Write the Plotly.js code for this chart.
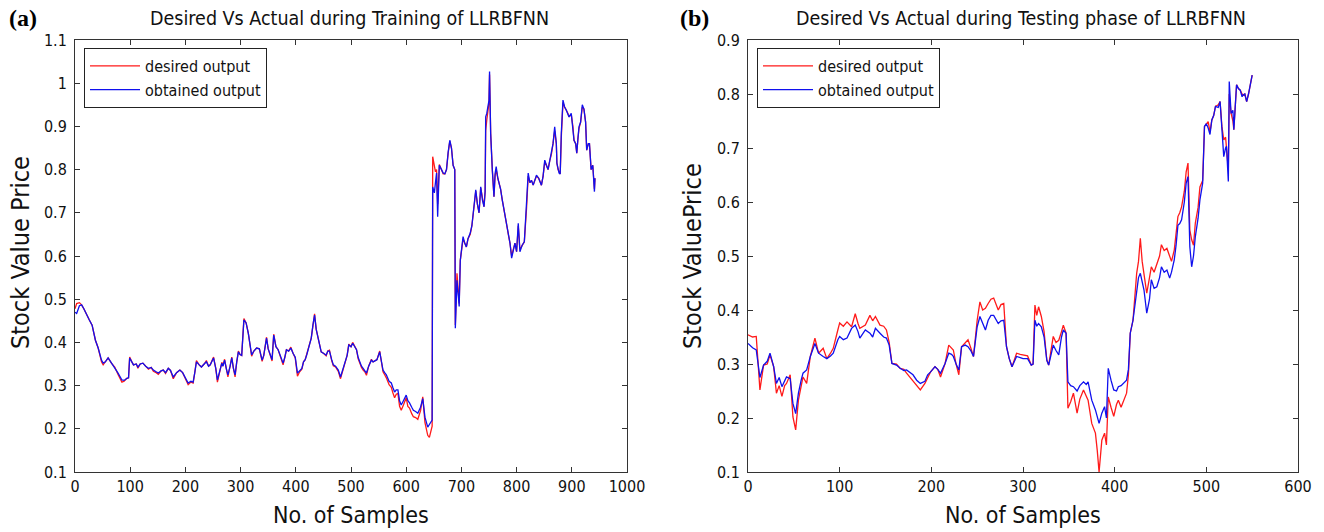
<!DOCTYPE html>
<html>
<head>
<meta charset="utf-8">
<script src="https://cdn.plot.ly/plotly-3.0.1.min.js"></script>
<style>html,body{margin:0;padding:0;background:#fff;}#chart{width:1324px;height:532px;}</style>
</head>
<body>
<div id="chart"></div>
<script>
// ---------- Training (a) ----------
const trainN = [0,3,8,12,16,21,26,31,37,42,48,51,55,60,66,72,78,85,89,94,97,99,103,106,111,114,118,123,128,133,138,142,147,151,156,160,164,169,173,178,184,190,195,199,205,210,214,217,220,225,229,234,238,242,245,251,255,258,262,266,268,271,274,277,281,284,287,290,293,296,299,302,306,310,314,317,320,324,329,334,339,342,347,350,353,357,360,364,368,372,377,380,383,387,391,395,399,403,407,411,414,417,420,424,428,431,434,437,440,443,446,450,455,458,461,465,468,472,477,481,485,489,493,496,500,503,507,510,513,516,519,522,525,528,532,537,540,543,547,552,555,558,561,564,569,573,576,579,582,585,588,591,595,600,603,606,610,613,617,621,626,630,634,637,639,642,645,647,648,651,653,655,657,660,664,667,670,673,676,679,682,685,688,689,692,694,696,698,701,703,706,709,712,716,719,721,723,726,729,732,735,738,741,743,744,746,748,750,751,753,756,759,761,763,766,768,771,774,777,780,783,785,788,791,794,797,800,803,806,810,814,818,821,824,827,830,833,836,840,845,848,851,854,857,860,863,866,869,872,873,875,877,879,881,884,887,890,893,895,899,902,904,907,909,911,913,916,919,922,925,927,930,932,935,938,941,942];
const trainObtained = [0.470,0.467,0.485,0.487,0.478,0.463,0.452,0.440,0.405,0.387,0.359,0.352,0.355,0.364,0.352,0.343,0.329,0.313,0.312,0.317,0.318,0.364,0.355,0.348,0.350,0.343,0.350,0.352,0.345,0.340,0.342,0.336,0.332,0.329,0.334,0.336,0.330,0.340,0.335,0.320,0.330,0.336,0.330,0.320,0.306,0.310,0.308,0.330,0.355,0.348,0.343,0.350,0.355,0.345,0.348,0.364,0.340,0.313,0.330,0.352,0.345,0.359,0.340,0.325,0.345,0.364,0.340,0.325,0.355,0.378,0.372,0.370,0.452,0.445,0.421,0.390,0.371,0.380,0.387,0.385,0.359,0.370,0.410,0.385,0.375,0.360,0.417,0.390,0.383,0.370,0.352,0.365,0.383,0.380,0.387,0.375,0.366,0.329,0.335,0.340,0.355,0.360,0.372,0.390,0.410,0.440,0.463,0.430,0.412,0.390,0.378,0.375,0.371,0.380,0.380,0.360,0.348,0.345,0.336,0.320,0.335,0.355,0.370,0.394,0.390,0.398,0.390,0.383,0.365,0.352,0.345,0.340,0.335,0.329,0.345,0.359,0.355,0.357,0.360,0.378,0.360,0.336,0.330,0.325,0.310,0.306,0.295,0.285,0.290,0.290,0.265,0.255,0.265,0.278,0.265,0.260,0.250,0.243,0.240,0.236,0.250,0.270,0.227,0.215,0.204,0.210,0.216,0.220,0.760,0.746,0.770,0.792,0.691,0.810,0.800,0.792,0.790,0.800,0.840,0.868,0.850,0.810,0.800,0.433,0.544,0.500,0.483,0.590,0.620,0.645,0.630,0.621,0.640,0.653,0.670,0.691,0.720,0.753,0.720,0.700,0.760,0.730,0.714,0.750,0.922,0.930,0.946,0.960,1.027,0.884,0.800,0.737,0.790,0.807,0.780,0.769,0.755,0.730,0.710,0.683,0.670,0.653,0.630,0.595,0.615,0.630,0.610,0.676,0.610,0.625,0.633,0.714,0.792,0.770,0.775,0.764,0.775,0.787,0.780,0.764,0.785,0.822,0.810,0.800,0.820,0.838,0.860,0.899,0.860,0.815,0.800,0.792,0.790,0.884,0.961,0.945,0.938,0.930,0.922,0.930,0.900,0.868,0.860,0.838,0.870,0.899,0.910,0.950,0.940,0.910,0.845,0.860,0.860,0.800,0.810,0.749,0.780];
const trainDesired = [0.478,0.490,0.492,0.487,0.478,0.463,0.452,0.440,0.405,0.387,0.355,0.348,0.355,0.364,0.352,0.343,0.326,0.308,0.310,0.317,0.318,0.366,0.355,0.348,0.350,0.340,0.350,0.352,0.345,0.338,0.342,0.333,0.330,0.326,0.334,0.336,0.328,0.340,0.335,0.316,0.330,0.336,0.330,0.318,0.302,0.308,0.306,0.330,0.358,0.348,0.343,0.350,0.358,0.345,0.348,0.366,0.340,0.308,0.330,0.354,0.345,0.361,0.340,0.320,0.345,0.366,0.340,0.320,0.355,0.380,0.372,0.370,0.455,0.445,0.421,0.388,0.368,0.380,0.387,0.385,0.356,0.370,0.412,0.385,0.375,0.357,0.419,0.390,0.383,0.368,0.348,0.365,0.383,0.380,0.389,0.375,0.364,0.322,0.332,0.338,0.355,0.360,0.372,0.392,0.410,0.442,0.466,0.430,0.412,0.388,0.378,0.375,0.369,0.380,0.382,0.358,0.346,0.343,0.333,0.316,0.333,0.355,0.370,0.396,0.390,0.400,0.390,0.383,0.362,0.350,0.342,0.336,0.332,0.324,0.345,0.361,0.355,0.357,0.360,0.380,0.356,0.332,0.325,0.318,0.302,0.296,0.283,0.272,0.280,0.282,0.252,0.243,0.255,0.272,0.252,0.248,0.235,0.228,0.226,0.222,0.242,0.274,0.214,0.200,0.185,0.180,0.196,0.206,0.830,0.810,0.795,0.800,0.720,0.812,0.800,0.790,0.790,0.800,0.838,0.866,0.850,0.810,0.800,0.440,0.560,0.515,0.490,0.590,0.625,0.640,0.630,0.621,0.640,0.650,0.670,0.691,0.720,0.750,0.720,0.700,0.758,0.730,0.714,0.750,0.890,0.915,0.940,0.955,1.020,0.884,0.800,0.737,0.785,0.800,0.780,0.769,0.755,0.730,0.705,0.680,0.665,0.650,0.630,0.600,0.615,0.630,0.610,0.670,0.615,0.625,0.633,0.710,0.785,0.770,0.775,0.764,0.775,0.785,0.780,0.764,0.785,0.818,0.810,0.800,0.820,0.835,0.860,0.890,0.860,0.815,0.800,0.795,0.790,0.875,0.955,0.945,0.938,0.930,0.922,0.928,0.900,0.868,0.860,0.838,0.870,0.895,0.910,0.945,0.940,0.910,0.845,0.860,0.860,0.800,0.810,0.755,0.780];

// ---------- Testing (b) ----------
const testN = [0,5,9,11,13,17,21,24,28,31,34,37,40,42,46,49,52,55,58,60,64,68,73,77,82,86,90,93,98,100,104,108,113,117,120,122,128,133,136,139,144,148,151,154,157,162,166,170,173,177,180,184,188,193,196,199,204,207,210,215,219,222,224,227,230,233,237,240,243,246,250,253,256,259,262,265,268,271,273,276,279,282,285,288,291,293,297,300,305,309,311,313,315,317,320,323,326,328,331,333,336,339,342,344,347,349,352,355,359,362,366,369,371,375,379,381,383,386,389,391,393,396,399,402,404,407,409,413,415,417,420,422,424,426,428,430,432,435,438,440,443,446,449,451,454,457,460,462,465,467,469,471,473,476,478,480,482,484,486,488,491,493,496,498,500,502,504,506,508,510,513,515,517,519,521,522,524,525,527,529,530,532,533,535,537,539,540,542,544,546,548,550];
const testDesired = [0.354,0.350,0.351,0.300,0.252,0.298,0.300,0.317,0.295,0.246,0.260,0.240,0.260,0.264,0.280,0.202,0.178,0.233,0.260,0.276,0.264,0.314,0.348,0.320,0.329,0.310,0.320,0.329,0.363,0.376,0.370,0.378,0.369,0.393,0.375,0.366,0.372,0.390,0.380,0.388,0.372,0.370,0.363,0.340,0.301,0.300,0.292,0.290,0.283,0.275,0.270,0.260,0.252,0.264,0.275,0.285,0.295,0.290,0.276,0.301,0.335,0.330,0.326,0.300,0.280,0.332,0.340,0.345,0.330,0.314,0.381,0.415,0.400,0.403,0.412,0.420,0.422,0.410,0.400,0.410,0.412,0.332,0.310,0.295,0.310,0.320,0.318,0.317,0.315,0.298,0.300,0.409,0.390,0.406,0.388,0.360,0.307,0.298,0.330,0.351,0.340,0.344,0.360,0.372,0.357,0.218,0.230,0.246,0.209,0.235,0.252,0.240,0.233,0.190,0.172,0.140,0.100,0.159,0.172,0.150,0.239,0.220,0.203,0.225,0.233,0.220,0.228,0.246,0.280,0.357,0.381,0.420,0.468,0.490,0.533,0.490,0.468,0.431,0.460,0.480,0.470,0.486,0.500,0.521,0.510,0.514,0.499,0.490,0.511,0.540,0.573,0.580,0.591,0.620,0.656,0.672,0.548,0.530,0.520,0.561,0.590,0.628,0.640,0.740,0.745,0.749,0.730,0.752,0.760,0.777,0.780,0.786,0.740,0.715,0.720,0.703,0.660,0.800,0.764,0.750,0.734,0.790,0.817,0.810,0.807,0.800,0.798,0.800,0.786,0.800,0.820,0.835];
const testObtained = [0.338,0.330,0.326,0.300,0.275,0.298,0.305,0.320,0.295,0.264,0.275,0.258,0.270,0.276,0.273,0.227,0.208,0.246,0.270,0.283,0.289,0.314,0.338,0.320,0.314,0.310,0.315,0.320,0.345,0.351,0.345,0.348,0.366,0.372,0.360,0.348,0.363,0.357,0.350,0.366,0.357,0.350,0.348,0.335,0.301,0.298,0.292,0.288,0.289,0.283,0.280,0.270,0.264,0.268,0.280,0.285,0.295,0.290,0.283,0.301,0.320,0.318,0.314,0.300,0.289,0.332,0.335,0.332,0.325,0.314,0.369,0.388,0.375,0.363,0.381,0.390,0.390,0.380,0.375,0.380,0.381,0.332,0.310,0.295,0.305,0.314,0.312,0.310,0.310,0.298,0.300,0.381,0.370,0.375,0.369,0.350,0.307,0.298,0.320,0.335,0.325,0.317,0.350,0.363,0.357,0.267,0.260,0.258,0.250,0.260,0.267,0.262,0.267,0.233,0.215,0.200,0.190,0.209,0.221,0.200,0.292,0.270,0.252,0.250,0.258,0.260,0.264,0.270,0.290,0.357,0.381,0.410,0.437,0.460,0.468,0.450,0.437,0.394,0.420,0.456,0.440,0.443,0.460,0.480,0.470,0.474,0.459,0.470,0.493,0.520,0.557,0.560,0.567,0.600,0.635,0.647,0.517,0.480,0.500,0.536,0.570,0.604,0.635,0.740,0.745,0.737,0.725,0.752,0.760,0.777,0.775,0.786,0.739,0.684,0.700,0.703,0.638,0.823,0.764,0.770,0.734,0.800,0.817,0.810,0.807,0.795,0.798,0.800,0.786,0.800,0.820,0.835];

const legendLabels = ['desired output', 'obtained output'];
const plotTitles = ['Desired Vs Actual during Training of LLRBFNN', 'Desired Vs Actual during Testing phase of LLRBFNN'];
const panelTags = ['(a)', '(b)'];
const yTitles = ['Stock Value Price', 'Stock ValuePrice'];
const xTitle = 'No. of Samples';

const RED = '#ff1a1a', BLUE = '#1010ee';
const FONT = '"Liberation Sans Narrow","Arial Narrow","DejaVu Sans Condensed","Liberation Sans",Arial,sans-serif';

const traces = [
  {x: trainN, y: trainDesired, name: legendLabels[0], type: 'scatter', mode: 'lines', line: {color: RED, width: 1.3}, xaxis: 'x', yaxis: 'y', legend: 'legend'},
  {x: trainN, y: trainObtained, name: legendLabels[1], type: 'scatter', mode: 'lines', line: {color: BLUE, width: 1.3}, xaxis: 'x', yaxis: 'y', legend: 'legend'},
  {x: testN, y: testDesired, name: legendLabels[0], type: 'scatter', mode: 'lines', line: {color: RED, width: 1.3}, xaxis: 'x2', yaxis: 'y2', legend: 'legend2'},
  {x: testN, y: testObtained, name: legendLabels[1], type: 'scatter', mode: 'lines', line: {color: BLUE, width: 1.3}, xaxis: 'x2', yaxis: 'y2', legend: 'legend2'}
];

const L = 75, R = 26, T = 40, B = 60, W = 1324, H = 532;
const PW = W - L - R, PH = H - T - B;
const px = v => (v - L) / PW;           // page x -> paper x
const py = v => (H - B - v) / PH;       // page y -> paper y

const axisBase = {
  showgrid: false, zeroline: false, showline: true, linecolor: '#333', linewidth: 1,
  mirror: 'ticks', ticks: 'inside', ticklen: 5, tickwidth: 1, tickcolor: '#333',
  tickfont: {family: FONT, size: 16, color: '#111'}, fixedrange: true
};

const legendBase = {
  yanchor: 'top', xanchor: 'left', bgcolor: '#fff', bordercolor: '#222', borderwidth: 1,
  font: {family: FONT, size: 16, color: '#111'}, itemwidth: 50, tracegroupgap: 0
};

const layout = {
  width: W, height: H, margin: {l: L, r: R, t: T, b: B, pad: 0},
  paper_bgcolor: '#fff', plot_bgcolor: '#fff', showlegend: true,
  xaxis: Object.assign({}, axisBase, {domain: [0, px(627)], range: [0, 1000], dtick: 100, tick0: 0, anchor: 'y'}),
  yaxis: Object.assign({}, axisBase, {domain: [0, 1], range: [0.1, 1.1], dtick: 0.1, tick0: 0.1, anchor: 'x', ticklabelstandoff: 4}),
  xaxis2: Object.assign({}, axisBase, {domain: [px(748), 1], range: [0, 600], dtick: 100, tick0: 0, anchor: 'y2'}),
  yaxis2: Object.assign({}, axisBase, {domain: [0, 1], range: [0.1, 0.9], dtick: 0.1, tick0: 0.1, anchor: 'x2', ticklabelstandoff: 4}),
  legend: Object.assign({}, legendBase, {x: px(84), y: py(48)}),
  legend2: Object.assign({}, legendBase, {x: px(757), y: py(48)}),
  annotations: [
    {text: plotTitles[0], xref: 'paper', yref: 'paper', x: px(349), y: py(18), xanchor: 'center', yanchor: 'middle', showarrow: false, font: {family: FONT, size: 19.5, color: '#111'}},
    {text: plotTitles[1], xref: 'paper', yref: 'paper', x: px(1021), y: py(18), xanchor: 'center', yanchor: 'middle', showarrow: false, font: {family: FONT, size: 19.5, color: '#111'}},
    {text: '<b>' + panelTags[0] + '</b>', xref: 'paper', yref: 'paper', x: px(23), y: py(18), xanchor: 'center', yanchor: 'middle', showarrow: false, font: {family: '"Liberation Serif","Times New Roman",serif', size: 24, color: '#000'}},
    {text: '<b>' + panelTags[1] + '</b>', xref: 'paper', yref: 'paper', x: px(694), y: py(18), xanchor: 'center', yanchor: 'middle', showarrow: false, font: {family: '"Liberation Serif","Times New Roman",serif', size: 24, color: '#000'}},
    {text: xTitle, xref: 'paper', yref: 'paper', x: px(351), y: py(515), xanchor: 'center', yanchor: 'middle', showarrow: false, font: {family: FONT, size: 23, color: '#111'}},
    {text: xTitle, xref: 'paper', yref: 'paper', x: px(1023), y: py(515), xanchor: 'center', yanchor: 'middle', showarrow: false, font: {family: FONT, size: 23, color: '#111'}},
    {text: yTitles[0], xref: 'paper', yref: 'paper', x: px(20), y: py(253), xanchor: 'center', yanchor: 'middle', textangle: -90, showarrow: false, font: {family: FONT, size: 25, color: '#111'}},
    {text: yTitles[1], xref: 'paper', yref: 'paper', x: px(692), y: py(256), xanchor: 'center', yanchor: 'middle', textangle: -90, showarrow: false, font: {family: FONT, size: 25, color: '#111'}}
  ]
};

Plotly.newPlot('chart', traces, layout, {displayModeBar: false, staticPlot: true});
</script>
</body>
</html>
